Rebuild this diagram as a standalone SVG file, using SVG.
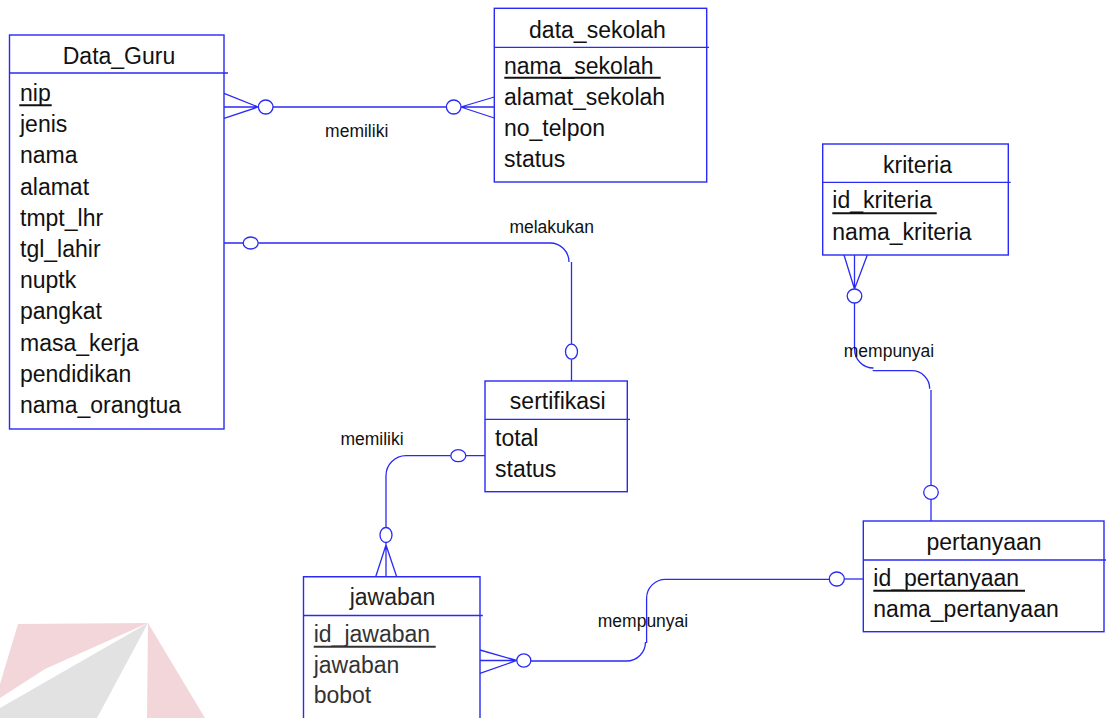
<svg xmlns="http://www.w3.org/2000/svg" width="1106" height="718" viewBox="0 0 1106 718">
<style>
.box{fill:#fff;stroke:#2a2af5;stroke-width:1.4}
.hd{stroke:#2a2af5;stroke-width:1.3}
.ln{fill:none;stroke:#2a2af5;stroke-width:1.3}
.ci{fill:#fff;stroke:#2a2af5;stroke-width:1.3}
.t{font-family:"Liberation Sans",Arial,sans-serif;font-size:23px;fill:#111}
.ti{font-family:"Liberation Sans",Arial,sans-serif;font-size:23px;fill:#111;text-anchor:middle}
.lb{font-family:"Liberation Sans",Arial,sans-serif;font-size:17.5px;fill:#111;text-anchor:middle}
.ul{stroke:#111;stroke-width:2}
</style>
<g id="watermark">
<polygon points="18,624 148,623 45,669 0,698 0,684" fill="#f3d6da"/>
<polygon points="148,623 97,718 0,718 0,708" fill="#e2e2e2"/>
<polygon points="148,623 205,718 147,718" fill="#f3d6da"/>
</g>
<g id="connectors">
<!-- Data_Guru - data_sekolah : memiliki -->
<path class="ln" d="M224,93.3 L258.3,107 M224,107 H258.3 M224,118.3 L258.3,107"/>
<path class="ln" d="M273,107 H446"/>
<ellipse class="ci" cx="265.7" cy="107" rx="7.3" ry="7"/>
<path class="ln" d="M494.3,97 L460.7,107 M494.3,107 H460.7 M494.3,118 L460.7,107"/>
<ellipse class="ci" cx="453.7" cy="107" rx="7.3" ry="7"/>
<!-- Data_Guru - sertifikasi : melakukan -->
<path class="ln" d="M224,243 H243.2 M258.2,243 H550 A19,19 0 0 1 569,262"/>
<ellipse class="ci" cx="250.7" cy="243" rx="7.5" ry="6"/>
<path class="ln" d="M571.5,262 V344.2 M571.5,359.2 V381"/>
<ellipse class="ci" cx="571.5" cy="351.7" rx="6" ry="7.5"/>
<!-- sertifikasi - jawaban : memiliki -->
<path class="ln" d="M485,455.7 H465.8 M450.8,455.7 H406 A20,20 0 0 0 386,475.7 V527.5"/>
<ellipse class="ci" cx="458.3" cy="455.7" rx="7.5" ry="6"/>
<path class="ln" d="M386,542.5 V576.7 M386,545 L375.7,576.7 M386,545 L396.7,576.7"/>
<ellipse class="ci" cx="386" cy="535" rx="6" ry="7.5"/>
<!-- jawaban - pertanyaan : mempunyai -->
<path class="ln" d="M480,650 L516.8,660.5 M480,660.5 H516.8 M480,673.3 L516.8,660.5"/>
<ellipse class="ci" cx="523.8" cy="660.5" rx="7" ry="6.7"/>
<path class="ln" d="M530.8,661 H626.5 A19,19 0 0 0 645.5,642"/>
<path class="ln" d="M646.6,643 V598.3 A19,19 0 0 1 665.6,579.3 H829.3"/>
<ellipse class="ci" cx="836.8" cy="579" rx="7.5" ry="7"/>
<path class="ln" d="M844.3,579 H863.3"/>
<!-- kriteria - pertanyaan : mempunyai -->
<path class="ln" d="M844,255 L854.5,289 M854.5,255 V289 M867.3,255 L854.5,289"/>
<ellipse class="ci" cx="854.5" cy="296" rx="7.3" ry="7"/>
<path class="ln" d="M854.5,303 V349 A19,19 0 0 0 873.5,368"/>
<path class="ln" d="M872.7,370.7 H911.7 A18,18 0 0 1 929.7,388.7"/>
<path class="ln" d="M931,390 V485.3"/>
<ellipse class="ci" cx="931" cy="492.3" rx="7.3" ry="7"/>
<path class="ln" d="M931,499.3 V521"/>
<text class="lb" x="356.7" y="136.7">memiliki</text>
<text class="lb" x="551.7" y="233">melakukan</text>
<text class="lb" x="372" y="445">memiliki</text>
<text class="lb" x="643" y="627.3">mempunyai</text>
<text class="lb" x="889" y="356.7">mempunyai</text>
</g>
<g id="Data_Guru">
<rect class="box" x="9.5" y="35" width="214.5" height="394"/>
<line class="hd" x1="9.5" y1="73" x2="228" y2="73"/>
<text class="ti" x="119" y="64">Data_Guru</text>
<text class="t" x="20" y="101">nip</text>
<line class="ul" x1="19.3" y1="105.3" x2="51.7" y2="105.3"/>
<text class="t" x="20" y="132.2">jenis</text>
<text class="t" x="20" y="163.4">nama</text>
<text class="t" x="20" y="194.6">alamat</text>
<text class="t" x="20" y="225.8">tmpt_lhr</text>
<text class="t" x="20" y="257">tgl_lahir</text>
<text class="t" x="20" y="288.2">nuptk</text>
<text class="t" x="20" y="319.4">pangkat</text>
<text class="t" x="20" y="350.6">masa_kerja</text>
<text class="t" x="20" y="381.8">pendidikan</text>
<text class="t" x="20" y="413">nama_orangtua</text>
</g>
<g id="data_sekolah">
<rect class="box" x="494.3" y="8.3" width="212.4" height="173.7"/>
<line class="hd" x1="494.3" y1="47.3" x2="709" y2="47.3"/>
<text class="ti" x="597.5" y="38">data_sekolah</text>
<text class="t" x="504" y="73.5">nama_sekolah</text>
<line class="ul" x1="504.3" y1="77.7" x2="660.7" y2="77.7"/>
<text class="t" x="504" y="104.5">alamat_sekolah</text>
<text class="t" x="504" y="135.5">no_telpon</text>
<text class="t" x="504" y="166.5">status</text>
</g>
<g id="kriteria">
<rect class="box" x="822.7" y="144" width="185.6" height="111"/>
<line class="hd" x1="822.7" y1="182.3" x2="1010.7" y2="182.3"/>
<text class="ti" x="917.5" y="172.7">kriteria</text>
<text class="t" x="832.3" y="208.3">id_kriteria</text>
<line class="ul" x1="832.3" y1="213.3" x2="936.7" y2="213.3"/>
<text class="t" x="832.3" y="240">nama_kriteria</text>
</g>
<g id="sertifikasi">
<rect class="box" x="485" y="381" width="142.3" height="110.7"/>
<line class="hd" x1="485" y1="419.3" x2="630" y2="419.3"/>
<text class="ti" x="557.8" y="409.3">sertifikasi</text>
<text class="t" x="495" y="446">total</text>
<text class="t" x="495" y="477.3">status</text>
</g>
<g id="pertanyaan">
<rect class="box" x="863.3" y="521" width="240.7" height="110.7"/>
<line class="hd" x1="863.3" y1="560" x2="1106" y2="560"/>
<text class="ti" x="984" y="550">pertanyaan</text>
<text class="t" x="873.3" y="586">id_pertanyaan</text>
<line class="ul" x1="873.3" y1="590.7" x2="1025" y2="590.7"/>
<text class="t" x="873.3" y="616.7">nama_pertanyaan</text>
</g>
<g id="jawaban">
<path class="box" d="M303.5,720 V576.7 H480 V720"/>
<line class="hd" x1="303.5" y1="615.5" x2="482.8" y2="615.5"/>
<text class="ti" x="392.5" y="605" style="fill:#222">jawaban</text>
<text class="t" x="313.7" y="641.7" style="fill:#333">id_jawaban</text>
<line class="ul" x1="313.7" y1="646.7" x2="435.7" y2="646.7" style="stroke:#333"/>
<text class="t" x="313.7" y="673.3" style="fill:#333">jawaban</text>
<text class="t" x="313.7" y="703.3" style="fill:#333">bobot</text>
</g>
</svg>
